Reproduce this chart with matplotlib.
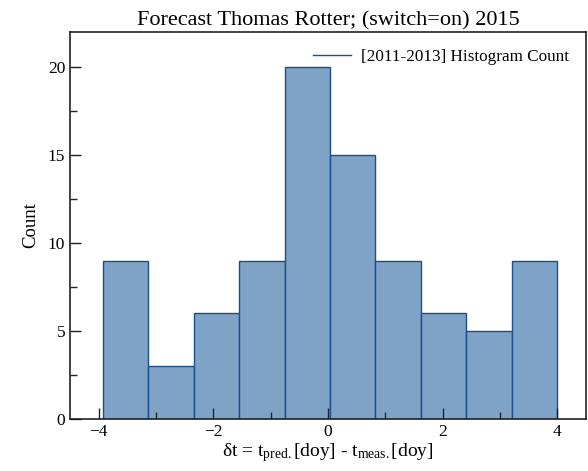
import numpy as np
import matplotlib
matplotlib.use("Agg")
import matplotlib.pyplot as plt
from matplotlib.lines import Line2D
from matplotlib.ticker import MultipleLocator

plt.rcParams['font.family'] = ['Liberation Serif', 'DejaVu Serif']
plt.rcParams['mathtext.fontset'] = 'custom'
plt.rcParams['mathtext.rm'] = 'Liberation Serif'
plt.rcParams['mathtext.it'] = 'Liberation Serif:italic'

counts = [9, 3, 6, 9, 20, 15, 9, 6, 5, 9]
bin_edges = np.linspace(-3.93, 4.0, 11)
centers = (bin_edges[:-1] + bin_edges[1:]) / 2
title = "Forecast Thomas Rotter; (switch=on) 2015"
legend_label = "[2011-2013] Histogram Count"

fig = plt.figure(figsize=(5.88, 4.71), dpi=100)
ax = fig.add_axes([70/588, 52/471, (586-70)/588, (419-32)/471])

ax.hist(centers, bins=bin_edges, weights=counts, color='#7fa3c6',
        edgecolor='#1a4f8f', linewidth=1.0)

ax.set_xlim(-4.5, 4.5)
ax.set_ylim(0, 22)
ax.xaxis.set_major_locator(MultipleLocator(2))
ax.xaxis.set_minor_locator(MultipleLocator(1))
ax.yaxis.set_major_locator(MultipleLocator(5))
ax.yaxis.set_minor_locator(MultipleLocator(2.5))
ax.tick_params(which='both', direction='in', top=False, right=False, labelsize=12.5,
               width=1, color='#222222', labelcolor='black')
ax.tick_params(which='major', length=8)
ax.tick_params(which='minor', length=5)
for s in ax.spines.values():
    s.set_color('#222222')
    s.set_linewidth(1.2)

ax.set_title(title, fontsize=16, pad=5)
ax.set_ylabel("Count", fontsize=13.5, labelpad=6)
ax.set_xlabel(r"δt = t$_{\rm pred.}$[doy] - t$_{\rm meas.}$[doy]", fontsize=14, labelpad=1)

handle = Line2D([], [], color='#1a4f8f', linewidth=1)
ax.legend([handle], [legend_label], loc='upper right', frameon=False, fontsize=12.3,
          handlelength=2.2, handletextpad=0.6, borderaxespad=0.6)

fig.savefig("out.png", dpi=100)
